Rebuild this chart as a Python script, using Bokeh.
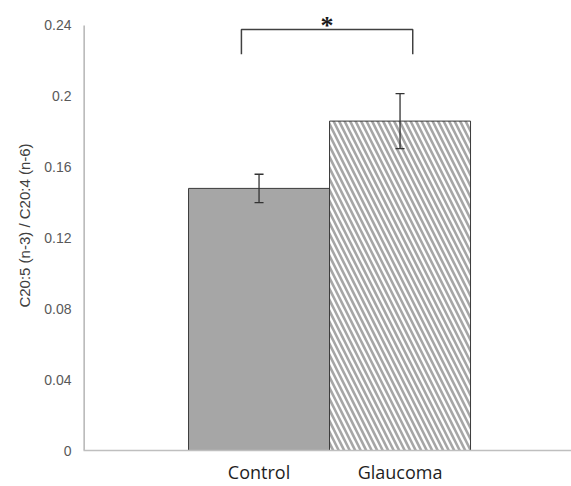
from bokeh.plotting import figure
from bokeh.models import FixedTicker, Whisker, TeeHead, ColumnDataSource, Range1d
from bokeh.embed import file_html
from bokeh.resources import INLINE

# ---- data ----
categories = ["Control", "Glaucoma"]
means = [0.148, 0.186]
errors = [0.008, 0.0155]
y_ticks = [0, 0.04, 0.08, 0.12, 0.16, 0.2, 0.24]
y_tick_labels = ["0", "0.04", "0.08", "0.12", "0.16", "0.2", "0.24"]
y_label = "C20:5 (n-3) / C20:4 (n-6)"
sig_text = "*"
bracket_top = 0.2377
bracket_bottom = 0.2237
y_axis_max = 0.24

xs = [i + 1 for i in range(len(categories))]

p = figure(width=571, height=486, output_backend="svg", toolbar_location=None,
           x_range=Range1d(-0.245, 3.216), y_range=Range1d(0, 0.2541),
           min_border_left=83, min_border_right=0, min_border_top=0, min_border_bottom=35)
p.outline_line_color = None
p.xgrid.visible = False
p.ygrid.visible = False
p.background_fill_color = "white"
p.border_fill_color = "white"

# y axis line (only up to the top tick)
p.segment(x0=[-0.245], y0=[0], x1=[-0.245], y1=[y_axis_max],
          line_color="#a6a6a6", line_width=2.5)

# bars
p.vbar(x=[xs[0]], top=[means[0]], width=1.0, fill_color="#a6a6a6",
       line_color="#3a3a3a", line_width=1)
p.vbar(x=[xs[1]], top=[means[1]], width=1.0, fill_color="white",
       hatch_pattern="\\", hatch_color="#a6a6a6", hatch_scale=11, hatch_weight=2.6,
       line_color="#3a3a3a", line_width=1)

# error bars
src = ColumnDataSource(dict(x=xs,
                            lower=[m - e for m, e in zip(means, errors)],
                            upper=[m + e for m, e in zip(means, errors)]))
w = Whisker(source=src, base="x", lower="lower", upper="upper", level="overlay",
            line_color="#333333", line_width=1.3,
            lower_head=TeeHead(size=9, line_color="#333333", line_width=1.3),
            upper_head=TeeHead(size=9, line_color="#333333", line_width=1.3))
p.add_layout(w)

# significance bracket
bl = xs[0] - 0.125
br = xs[1] + 0.09
p.line(x=[bl, bl, br, br], y=[bracket_bottom, bracket_top, bracket_top, bracket_bottom],
       line_color="#404040", line_width=1.5)
p.text(x=[(bl + br) / 2], y=[bracket_top], text=[sig_text], text_align="center",
       text_baseline="bottom", text_font="DejaVu Sans", text_font_style="bold",
       text_font_size="26px", text_color="#1a1a1a", y_offset=10)

# axes
p.yaxis.ticker = FixedTicker(ticks=y_ticks)
p.yaxis.major_label_overrides = {t: l for t, l in zip(y_ticks, y_tick_labels)}
p.yaxis.major_tick_line_color = None
p.yaxis.minor_tick_line_color = None
p.yaxis.major_tick_out = 0
p.yaxis.major_label_standoff = 12
p.yaxis.major_label_text_font = "Liberation Sans"
p.yaxis.major_label_text_font_size = "14px"
p.yaxis.major_label_text_color = "#595959"
p.yaxis.axis_line_color = None
p.yaxis.axis_label = y_label
p.yaxis.axis_label_text_font = "Liberation Sans"
p.yaxis.axis_label_text_font_size = "15px"
p.yaxis.axis_label_text_font_style = "normal"
p.yaxis.axis_label_text_color = "#404040"
p.yaxis.axis_label_standoff = 8

p.xaxis.ticker = FixedTicker(ticks=xs)
p.xaxis.major_label_overrides = {x: c for x, c in zip(xs, categories)}
p.xaxis.major_tick_line_color = None
p.xaxis.minor_tick_line_color = None
p.xaxis.major_tick_out = 0
p.xaxis.major_label_standoff = 9
p.xaxis.major_label_text_font = "Open Sans"
p.xaxis.major_label_text_font_size = "18px"
p.xaxis.major_label_text_color = "#1e1e1e"
p.xaxis.axis_line_color = "#bfbfbf"
p.xaxis.axis_line_width = 1.5

open("out.html", "w").write(file_html(p, INLINE))
